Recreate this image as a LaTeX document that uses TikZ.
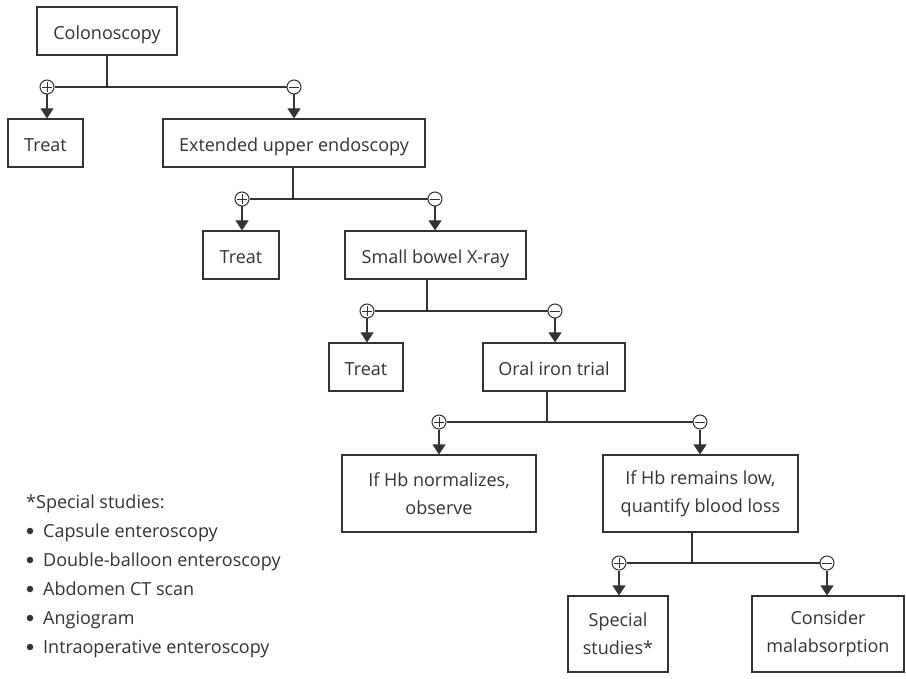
\documentclass[tikz,border=0pt]{standalone}
\usepackage{fontspec}
\setmainfont{Open Sans}
\usetikzlibrary{arrows.meta}
\definecolor{ink}{HTML}{333333}
\begin{document}
\begin{tikzpicture}[x=1pt,y=-1pt,
  every node/.style={text=ink},
  box/.style={draw=ink,line width=1.2pt,inner sep=0pt,align=center,
    font=\fontsize{18}{28}\selectfont,minimum height=48pt},
  one/.style={text height=17pt,text depth=0pt},
  tall/.style={minimum height=77pt},
  sig/.style={draw=ink,line width=1pt,circle,minimum size=14pt,inner sep=0pt,fill=white},
  link/.style={draw=ink,line width=1.2pt},
  arr/.style={link,-{Triangle[length=10pt,width=13pt]}},
  legend/.style={anchor=base west,font=\fontsize{18}{20}\selectfont,inner sep=0pt},
  dot/.style={circle,fill=ink,minimum size=6.5pt,inner sep=0pt}]
\useasboundingbox (0,0) rectangle (906,679);
% boxes
\node[box,one,minimum width=140pt] (col) at (107,31) {Colonoscopy};
\node[box,one,minimum width=75pt] (t1) at (45.5,143) {Treat};
\node[box,one,minimum width=262pt] (ext) at (294,143) {Extended upper endoscopy};
\node[box,one,minimum width=76pt] (t2) at (241,255) {Treat};
\node[box,one,minimum width=181pt] (sb) at (435.5,255) {Small bowel X-ray};
\node[box,one,minimum width=74pt] (t3) at (366,367) {Treat};
\node[box,one,minimum width=142pt] (oi) at (554,367) {Oral iron trial};
\node[box,tall,minimum width=194pt] (hn) at (439,493.5) {If Hb normalizes,\\observe};
\node[box,tall,minimum width=195pt] (hl) at (700.5,493.5) {If Hb remains low,\\quantify blood loss};
\node[box,minimum height=76pt,minimum width=100pt] (ss) at (618,634) {Special\\studies*};
\node[box,minimum height=76pt,minimum width=152pt] (cm) at (828,634) {Consider\\malabsorption};
% junctions
\coordinate (j1) at (107,87);
\coordinate (j2) at (293,199);
\coordinate (j3) at (427,311);
\coordinate (j4) at (547,422);
\coordinate (j5) at (692,563);
% sign circles
\foreach \n/\x/\y in {p1/47/87,m1/294/87,p2/242/199,m2/435/199,p3/367/311,m3/555/311,p4/439/422,m4/700/422,p5/619/563,m5/827/563}
  \node[sig] (\n) at (\x,\y) {};
% horizontal bars and verticals
\foreach \a/\b/\j/\p in {p1/m1/j1/col,p2/m2/j2/ext,p3/m3/j3/sb,p4/m4/j4/oi,p5/m5/j5/hl}{
  \draw[link] (\a.east) -- (\b.west);
  \draw[link] (\p.south -| \j) -- (\j);
}
% arrows
\foreach \c/\t in {p1/t1,m1/ext,p2/t2,m2/sb,p3/t3,m3/oi,p4/hn,m4/hl,p5/ss,m5/cm}
  \draw[arr] (\c.south) -- (\c |- \t.north);
% plus / minus signs
\foreach \n in {p1,p2,p3,p4,p5}{
  \draw[ink,line width=0.9pt] ([xshift=-5pt]\n.center) -- ([xshift=5pt]\n.center);
  \draw[ink,line width=0.9pt] ([yshift=-5pt]\n.center) -- ([yshift=5pt]\n.center);
}
\foreach \n in {m1,m2,m3,m4,m5}
  \draw[ink,line width=0.9pt] ([xshift=-5pt]\n.center) -- ([xshift=5pt]\n.center);
% legend
\node[legend] (lh) at (26,508) {*Special studies:};
\foreach \i/\t in {1/Capsule enteroscopy,2/Double-balloon enteroscopy,3/Abdomen CT scan,4/Angiogram,5/Intraoperative enteroscopy}{
  \node[dot] (lb\i) at (30,502+29*\i) {};
  \node[legend] (lt\i) at (43,508+29*\i) {\t};
}
\end{tikzpicture}
\end{document}
